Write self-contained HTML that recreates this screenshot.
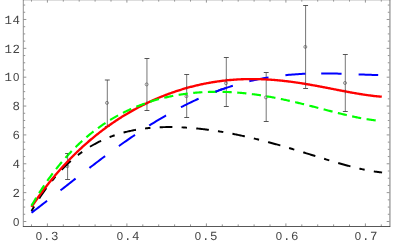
<!DOCTYPE html>
<html><head><meta charset="utf-8"><title>plot</title>
<style>
html,body{margin:0;padding:0;background:#fff;}
body{width:393px;height:243px;position:relative;overflow:hidden;font-family:"Liberation Mono",monospace;font-size:12.4px;letter-spacing:0.46px;color:#444;text-rendering:geometricPrecision;}
.yl,.xl{will-change:transform;}
.z{display:inline-block;width:7.44px;line-height:10px;text-align:center;font-family:"Liberation Sans",sans-serif;font-size:11.4px;letter-spacing:0;margin-right:0.46px;}
.yl{position:absolute;left:0;width:20.4px;text-align:right;line-height:16px;height:16px;}
.xl{position:absolute;top:228.6px;width:40px;text-align:center;line-height:16px;height:16px;}
</style></head><body>
<svg width="393" height="243" viewBox="0 0 393 243" style="position:absolute;left:0;top:0">
<g stroke="#3a3a3a" fill="none">
<path d="M23.3 -0.3 V226.5" stroke-width="0.9" stroke="#858585"/>
<path d="M389.95 -0.3 V226.5" stroke-width="1.0" stroke="#787878"/>
<path d="M22.90 226.5 H390.30" stroke-width="0.85"/>
<path d="M22.90 -0.3 H390.30" stroke-width="0.85"/>
<path stroke-width="0.55" d="M31.50 226.0 v-1.60 M31.50 0.20 v1.40 M47.40 226.0 v-2.60 M47.40 0.20 v2.40 M63.30 226.0 v-1.60 M63.30 0.20 v1.40 M79.20 226.0 v-1.60 M79.20 0.20 v1.40 M95.10 226.0 v-1.60 M95.10 0.20 v1.40 M111.00 226.0 v-1.60 M111.00 0.20 v1.40 M126.90 226.0 v-2.60 M126.90 0.20 v2.40 M142.80 226.0 v-1.60 M142.80 0.20 v1.40 M158.70 226.0 v-1.60 M158.70 0.20 v1.40 M174.60 226.0 v-1.60 M174.60 0.20 v1.40 M190.50 226.0 v-1.60 M190.50 0.20 v1.40 M206.40 226.0 v-2.60 M206.40 0.20 v2.40 M222.30 226.0 v-1.60 M222.30 0.20 v1.40 M238.20 226.0 v-1.60 M238.20 0.20 v1.40 M254.10 226.0 v-1.60 M254.10 0.20 v1.40 M270.00 226.0 v-1.60 M270.00 0.20 v1.40 M285.90 226.0 v-2.60 M285.90 0.20 v2.40 M301.80 226.0 v-1.60 M301.80 0.20 v1.40 M317.70 226.0 v-1.60 M317.70 0.20 v1.40 M333.60 226.0 v-1.60 M333.60 0.20 v1.40 M349.50 226.0 v-1.60 M349.50 0.20 v1.40 M365.40 226.0 v-2.60 M365.40 0.20 v2.40 M381.30 226.0 v-1.60 M381.30 0.20 v1.40 M23.70 221.50 h2.60 M389.30 221.50 h-2.60 M23.70 214.28 h1.50 M389.30 214.28 h-1.50 M23.70 207.07 h1.50 M389.30 207.07 h-1.50 M23.70 199.85 h1.50 M389.30 199.85 h-1.50 M23.70 192.64 h2.60 M389.30 192.64 h-2.60 M23.70 185.43 h1.50 M389.30 185.43 h-1.50 M23.70 178.21 h1.50 M389.30 178.21 h-1.50 M23.70 171.00 h1.50 M389.30 171.00 h-1.50 M23.70 163.78 h2.60 M389.30 163.78 h-2.60 M23.70 156.56 h1.50 M389.30 156.56 h-1.50 M23.70 149.35 h1.50 M389.30 149.35 h-1.50 M23.70 142.13 h1.50 M389.30 142.13 h-1.50 M23.70 134.92 h2.60 M389.30 134.92 h-2.60 M23.70 127.70 h1.50 M389.30 127.70 h-1.50 M23.70 120.49 h1.50 M389.30 120.49 h-1.50 M23.70 113.28 h1.50 M389.30 113.28 h-1.50 M23.70 106.06 h2.60 M389.30 106.06 h-2.60 M23.70 98.84 h1.50 M389.30 98.84 h-1.50 M23.70 91.63 h1.50 M389.30 91.63 h-1.50 M23.70 84.41 h1.50 M389.30 84.41 h-1.50 M23.70 77.20 h2.60 M389.30 77.20 h-2.60 M23.70 69.99 h1.50 M389.30 69.99 h-1.50 M23.70 62.77 h1.50 M389.30 62.77 h-1.50 M23.70 55.56 h1.50 M389.30 55.56 h-1.50 M23.70 48.34 h2.60 M389.30 48.34 h-2.60 M23.70 41.12 h1.50 M389.30 41.12 h-1.50 M23.70 33.91 h1.50 M389.30 33.91 h-1.50 M23.70 26.69 h1.50 M389.30 26.69 h-1.50 M23.70 19.48 h2.60 M389.30 19.48 h-2.60 M23.70 12.27 h1.50 M389.30 12.27 h-1.50 M23.70 5.05 h1.50 M389.30 5.05 h-1.50"/>
</g>
<g fill="none">
<path stroke="#484848" stroke-width="0.75" d="M67.60 153.50 V179.50"/>
<path stroke="#444" stroke-width="0.9" d="M65.15 153.50 h4.9 M65.15 179.50 h4.9"/>
<circle cx="67.30" cy="166.23" r="1.5" fill="none" stroke="#555" stroke-width="0.65"/>
<path stroke="#484848" stroke-width="0.75" d="M107.30 80.00 V126.50"/>
<path stroke="#444" stroke-width="0.9" d="M104.85 80.00 h4.9 M104.85 126.50 h4.9"/>
<circle cx="107.00" cy="102.89" r="1.5" fill="none" stroke="#555" stroke-width="0.65"/>
<path stroke="#484848" stroke-width="0.75" d="M146.95 58.50 V110.50"/>
<path stroke="#444" stroke-width="0.9" d="M144.50 58.50 h4.9 M144.50 110.50 h4.9"/>
<circle cx="146.65" cy="84.41" r="1.5" fill="none" stroke="#555" stroke-width="0.65"/>
<path stroke="#484848" stroke-width="0.75" d="M186.70 74.50 V117.50"/>
<path stroke="#444" stroke-width="0.9" d="M184.25 74.50 h4.9 M184.25 117.50 h4.9"/>
<circle cx="186.40" cy="96.25" r="1.5" fill="none" stroke="#555" stroke-width="0.65"/>
<path stroke="#484848" stroke-width="0.75" d="M226.30 57.50 V106.50"/>
<path stroke="#444" stroke-width="0.9" d="M223.85 57.50 h4.9 M223.85 106.50 h4.9"/>
<circle cx="226.00" cy="83.26" r="1.5" fill="none" stroke="#555" stroke-width="0.65"/>
<path stroke="#484848" stroke-width="0.75" d="M266.20 72.50 V121.50"/>
<path stroke="#444" stroke-width="0.9" d="M263.75 72.50 h4.9 M263.75 121.50 h4.9"/>
<circle cx="265.90" cy="97.40" r="1.5" fill="none" stroke="#555" stroke-width="0.65"/>
<path stroke="#484848" stroke-width="0.75" d="M305.60 5.50 V88.50"/>
<path stroke="#444" stroke-width="0.9" d="M303.15 5.50 h4.9 M303.15 88.50 h4.9"/>
<circle cx="305.30" cy="46.90" r="1.5" fill="none" stroke="#555" stroke-width="0.65"/>
<path stroke="#484848" stroke-width="0.75" d="M345.30 54.50 V111.50"/>
<path stroke="#444" stroke-width="0.9" d="M342.85 54.50 h4.9 M342.85 111.50 h4.9"/>
<circle cx="345.00" cy="82.97" r="1.5" fill="none" stroke="#555" stroke-width="0.65"/>
</g>
<path d="M31.50 211.04 L32.38 209.53 L33.26 208.03 L34.14 206.56 L35.01 205.11 L35.89 203.69 L36.77 202.28 L37.65 200.89 L38.53 199.52 L39.41 198.16 L40.29 196.83 L41.17 195.52 L42.04 194.23 L42.92 192.95 L43.80 191.69 L44.68 190.45 L45.56 189.23 L46.44 188.03 L47.32 186.84 L48.20 185.67 L49.07 184.52 L49.95 183.38 L50.83 182.27 L51.71 181.16 L52.59 180.08 L53.47 179.01 L54.35 177.96 L55.22 176.92 L56.10 175.90 L56.98 174.89 L57.86 173.90 L58.74 172.93 L59.62 171.97 L60.50 171.02 L61.38 170.09 L62.25 169.17 L63.13 168.27 L64.01 167.38 L64.89 166.51 L65.77 165.65 L66.65 164.80 L67.53 163.96 L68.41 163.14 L69.28 162.34 L70.16 161.54 L71.04 160.76 L71.92 159.99 L72.80 159.24 L73.68 158.49 L74.56 157.76 L75.43 157.04 L76.31 156.34 L77.19 155.64 L78.07 154.96 L78.95 154.29 L79.83 153.63 L80.71 152.98 L81.59 152.34 L82.46 151.71 L83.34 151.09 L84.22 150.49 L85.10 149.89 L85.98 149.31 L86.86 148.74 L87.74 148.17 L88.62 147.62 L89.49 147.08 L90.37 146.54 L91.25 146.02 L92.13 145.50 L93.01 145.00 L93.89 144.50 L94.77 144.02 L95.64 143.54 L96.52 143.07 L97.40 142.61 L98.28 142.16 L99.16 141.72 L100.04 141.29 L100.92 140.87 L101.80 140.45 L102.67 140.04 L103.55 139.64 L104.43 139.25 L105.31 138.87 L106.19 138.49 L107.07 138.13 L107.95 137.77 L108.83 137.41 L109.70 137.07 L110.58 136.73 L111.46 136.40 L112.34 136.08 L113.22 135.76 L114.10 135.46 L114.98 135.15 L115.85 134.86 L116.73 134.57 L117.61 134.29 L118.49 134.02 L119.37 133.75 L120.25 133.49 L121.13 133.23 L122.01 132.98 L122.88 132.74 L123.76 132.50 L124.64 132.27 L125.52 132.05 L126.40 131.83 L127.28 131.62 L128.16 131.41 L129.04 131.21 L129.91 131.02 L130.79 130.83 L131.67 130.64 L132.55 130.46 L133.43 130.29 L134.31 130.12 L135.19 129.96 L136.06 129.80 L136.94 129.65 L137.82 129.50 L138.70 129.35 L139.58 129.22 L140.46 129.08 L141.34 128.95 L142.22 128.83 L143.09 128.71 L143.97 128.60 L144.85 128.49 L145.73 128.38 L146.61 128.28 L147.49 128.18 L148.37 128.09 L149.25 128.00 L150.12 127.92 L151.00 127.84 L151.88 127.77 L152.76 127.69 L153.64 127.63 L154.52 127.56 L155.40 127.51 L156.27 127.45 L157.15 127.40 L158.03 127.35 L158.91 127.31 L159.79 127.27 L160.67 127.23 L161.55 127.20 L162.43 127.17 L163.30 127.14 L164.18 127.12 L165.06 127.10 L165.94 127.08 L166.82 127.07 L167.70 127.06 L168.58 127.06 L169.46 127.06 L170.33 127.06 L171.21 127.06 L172.09 127.07 L172.97 127.08 L173.85 127.10 L174.73 127.11 L175.61 127.13 L176.48 127.16 L177.36 127.18 L178.24 127.21 L179.12 127.24 L180.00 127.28 L180.88 127.31 L181.76 127.36 L182.64 127.40 L183.51 127.45 L184.39 127.49 L185.27 127.55 L186.15 127.60 L187.03 127.66 L187.91 127.72 L188.79 127.78 L189.67 127.84 L190.54 127.91 L191.42 127.98 L192.30 128.06 L193.18 128.13 L194.06 128.21 L194.94 128.29 L195.82 128.37 L196.69 128.46 L197.57 128.54 L198.45 128.63 L199.33 128.73 L200.21 128.82 L201.09 128.92 L201.97 129.02 L202.85 129.12 L203.72 129.22 L204.60 129.33 L205.48 129.44 L206.36 129.55 L207.24 129.66 L208.12 129.78 L209.00 129.89 L209.88 130.01 L210.75 130.13 L211.63 130.26 L212.51 130.38 L213.39 130.51 L214.27 130.64 L215.15 130.77 L216.03 130.91 L216.91 131.04 L217.78 131.18 L218.66 131.32 L219.54 131.47 L220.42 131.61 L221.30 131.76 L222.18 131.90 L223.06 132.05 L223.93 132.21 L224.81 132.36 L225.69 132.52 L226.57 132.67 L227.45 132.83 L228.33 133.00 L229.21 133.16 L230.09 133.32 L230.96 133.49 L231.84 133.66 L232.72 133.83 L233.60 134.00 L234.48 134.18 L235.36 134.36 L236.24 134.53 L237.12 134.71 L237.99 134.89 L238.87 135.08 L239.75 135.26 L240.63 135.45 L241.51 135.64 L242.39 135.83 L243.27 136.02 L244.14 136.21 L245.02 136.41 L245.90 136.61 L246.78 136.80 L247.66 137.00 L248.54 137.21 L249.42 137.41 L250.30 137.61 L251.17 137.82 L252.05 138.03 L252.93 138.24 L253.81 138.45 L254.69 138.66 L255.57 138.88 L256.45 139.09 L257.33 139.31 L258.20 139.53 L259.08 139.75 L259.96 139.97 L260.84 140.19 L261.72 140.42 L262.60 140.64 L263.48 140.87 L264.35 141.10 L265.23 141.33 L266.11 141.56 L266.99 141.79 L267.87 142.03 L268.75 142.26 L269.63 142.50 L270.51 142.74 L271.38 142.97 L272.26 143.21 L273.14 143.46 L274.02 143.70 L274.90 143.94 L275.78 144.19 L276.66 144.43 L277.54 144.68 L278.41 144.93 L279.29 145.18 L280.17 145.43 L281.05 145.68 L281.93 145.93 L282.81 146.19 L283.69 146.44 L284.56 146.70 L285.44 146.96 L286.32 147.21 L287.20 147.47 L288.08 147.73 L288.96 147.99 L289.84 148.25 L290.72 148.52 L291.59 148.78 L292.47 149.04 L293.35 149.31 L294.23 149.57 L295.11 149.84 L295.99 150.10 L296.87 150.37 L297.75 150.64 L298.62 150.91 L299.50 151.17 L300.38 151.44 L301.26 151.71 L302.14 151.98 L303.02 152.25 L303.90 152.52 L304.77 152.80 L305.65 153.07 L306.53 153.34 L307.41 153.61 L308.29 153.88 L309.17 154.16 L310.05 154.43 L310.93 154.70 L311.80 154.98 L312.68 155.25 L313.56 155.52 L314.44 155.79 L315.32 156.07 L316.20 156.34 L317.08 156.61 L317.96 156.89 L318.83 157.16 L319.71 157.43 L320.59 157.70 L321.47 157.97 L322.35 158.24 L323.23 158.52 L324.11 158.79 L324.98 159.05 L325.86 159.32 L326.74 159.59 L327.62 159.86 L328.50 160.13 L329.38 160.39 L330.26 160.66 L331.14 160.92 L332.01 161.19 L332.89 161.45 L333.77 161.71 L334.65 161.97 L335.53 162.23 L336.41 162.49 L337.29 162.74 L338.17 163.00 L339.04 163.25 L339.92 163.50 L340.80 163.75 L341.68 164.00 L342.56 164.25 L343.44 164.50 L344.32 164.74 L345.19 164.98 L346.07 165.22 L346.95 165.46 L347.83 165.70 L348.71 165.93 L349.59 166.16 L350.47 166.39 L351.35 166.62 L352.22 166.85 L353.10 167.07 L353.98 167.29 L354.86 167.51 L355.74 167.72 L356.62 167.93 L357.50 168.14 L358.38 168.35 L359.25 168.55 L360.13 168.75 L361.01 168.95 L361.89 169.14 L362.77 169.33 L363.65 169.52 L364.53 169.70 L365.40 169.88 L366.28 170.06 L367.16 170.23 L368.04 170.40 L368.92 170.56 L369.80 170.72 L370.68 170.88 L371.56 171.03 L372.43 171.18 L373.31 171.32 L374.19 171.46 L375.07 171.59 L375.95 171.72 L376.83 171.84 L377.71 171.96 L378.59 172.08 L379.46 172.18 L380.34 172.29 L381.22 172.39 L382.10 172.48" fill="none" stroke="#000000" stroke-width="1.95" stroke-dasharray="12.7 9.2 5.4 9.3" stroke-dashoffset="22.0"/>
<path d="M31.50 212.73 L31.59 212.67 L33.34 211.34 L35.09 210.01 L36.84 208.68 L38.59 207.34 L40.34 206.00 L42.09 204.66 L43.84 203.31 L45.60 201.96 L47.06 200.82 M60.52 190.36 L60.57 190.32 L62.32 188.96 L64.07 187.59 L65.82 186.23 L67.57 184.86 L69.32 183.50 L71.07 182.13 L72.82 180.77 L74.57 179.41 L75.60 178.61 M89.47 167.91 L89.54 167.85 L91.29 166.51 L93.05 165.18 L94.80 163.85 L96.55 162.52 L98.30 161.20 L100.05 159.88 L101.80 158.57 L103.55 157.26 L105.11 156.10 M118.88 146.06 L118.96 146.01 L120.71 144.76 L122.46 143.52 L124.21 142.29 L125.96 141.06 L127.71 139.84 L129.46 138.63 L131.22 137.43 L132.97 136.24 L134.72 135.05 L134.98 134.88 M149.24 125.56 L149.25 125.55 L151.00 124.45 L152.75 123.36 L154.50 122.28 L156.25 121.21 L158.01 120.15 L159.76 119.10 L161.51 118.06 L163.26 117.03 L165.01 116.02 L166.02 115.43 M180.97 107.25 L181.03 107.22 L182.78 106.32 L184.53 105.43 L186.28 104.55 L188.03 103.68 L189.78 102.83 L191.54 101.99 L193.29 101.16 L195.04 100.34 L196.79 99.53 L198.54 98.74 L198.61 98.71 M215.40 91.75 L215.44 91.74 L217.19 91.08 L218.94 90.43 L220.69 89.80 L222.44 89.18 L224.19 88.57 L225.94 87.98 L227.69 87.40 L229.44 86.83 L231.19 86.27 L232.86 85.76 M249.29 81.28 L249.32 81.27 L251.07 80.86 L252.82 80.46 L254.57 80.07 L256.32 79.70 L258.07 79.33 L259.82 78.98 L261.57 78.64 L263.32 78.32 L265.08 78.00 L266.83 77.70 L268.51 77.42 M285.40 75.18 L285.47 75.17 L287.22 75.00 L288.98 74.83 L290.73 74.68 L292.48 74.53 L294.23 74.40 L295.98 74.28 L297.73 74.16 L299.48 74.05 L301.23 73.96 L302.98 73.87 L304.73 73.79 L305.50 73.76 M321.20 73.43 L321.28 73.43 L323.03 73.43 L324.78 73.43 L326.53 73.45 L328.28 73.46 L330.03 73.48 L331.79 73.51 L333.54 73.55 L335.29 73.58 L337.04 73.62 L338.79 73.67 L340.54 73.72 L341.57 73.75 M358.60 74.38 L358.66 74.38 L360.41 74.45 L362.16 74.52 L363.92 74.59 L365.67 74.66 L367.42 74.73 L369.17 74.80 L370.92 74.86 L372.67 74.93 L374.42 74.98 L376.17 75.04 L377.92 75.09 L378.19 75.10" fill="none" stroke="#0000ff" stroke-width="2.0"/>
<path d="M31.50 206.89 L32.38 205.59 L33.26 204.29 L34.13 203.02 L35.01 201.75 L35.89 200.49 L36.77 199.24 L37.65 198.01 L38.52 196.78 L39.40 195.56 L40.28 194.36 L41.16 193.16 L42.04 191.98 L42.91 190.80 L43.79 189.64 L44.67 188.48 L45.55 187.34 L46.43 186.20 L47.30 185.08 L48.18 183.96 L49.06 182.85 L49.94 181.75 L50.81 180.66 L51.69 179.59 L52.57 178.51 L53.45 177.45 L54.33 176.40 L55.20 175.36 L56.08 174.32 L56.96 173.29 L57.84 172.28 L58.72 171.27 L59.59 170.27 L60.47 169.27 L61.35 168.29 L62.23 167.31 L63.11 166.34 L63.98 165.38 L64.86 164.43 L65.74 163.49 L66.62 162.55 L67.50 161.62 L68.37 160.70 L69.25 159.79 L70.13 158.88 L71.01 157.99 L71.89 157.10 L72.76 156.21 L73.64 155.34 L74.52 154.47 L75.40 153.61 L76.28 152.75 L77.15 151.90 L78.03 151.06 L78.91 150.23 L79.79 149.40 L80.66 148.59 L81.54 147.77 L82.42 146.97 L83.30 146.17 L84.18 145.37 L85.05 144.59 L85.93 143.81 L86.81 143.04 L87.69 142.27 L88.57 141.51 L89.44 140.75 L90.32 140.01 L91.20 139.26 L92.08 138.53 L92.96 137.80 L93.83 137.08 L94.71 136.36 L95.59 135.65 L96.47 134.94 L97.35 134.24 L98.22 133.55 L99.10 132.86 L99.98 132.18 L100.86 131.50 L101.74 130.83 L102.61 130.16 L103.49 129.51 L104.37 128.85 L105.25 128.20 L106.13 127.56 L107.00 126.92 L107.88 126.29 L108.76 125.66 L109.64 125.04 L110.52 124.42 L111.39 123.81 L112.27 123.21 L113.15 122.60 L114.03 122.01 L114.90 121.42 L115.78 120.83 L116.66 120.25 L117.54 119.68 L118.42 119.10 L119.29 118.54 L120.17 117.98 L121.05 117.42 L121.93 116.87 L122.81 116.32 L123.68 115.78 L124.56 115.25 L125.44 114.71 L126.32 114.19 L127.20 113.66 L128.07 113.15 L128.95 112.63 L129.83 112.12 L130.71 111.62 L131.59 111.12 L132.46 110.62 L133.34 110.13 L134.22 109.65 L135.10 109.16 L135.98 108.69 L136.85 108.21 L137.73 107.74 L138.61 107.28 L139.49 106.82 L140.37 106.36 L141.24 105.91 L142.12 105.47 L143.00 105.02 L143.88 104.58 L144.75 104.15 L145.63 103.72 L146.51 103.29 L147.39 102.87 L148.27 102.45 L149.14 102.04 L150.02 101.63 L150.90 101.23 L151.78 100.82 L152.66 100.43 L153.53 100.03 L154.41 99.64 L155.29 99.26 L156.17 98.88 L157.05 98.50 L157.92 98.13 L158.80 97.76 L159.68 97.39 L160.56 97.03 L161.44 96.67 L162.31 96.32 L163.19 95.97 L164.07 95.62 L164.95 95.28 L165.83 94.94 L166.70 94.61 L167.58 94.28 L168.46 93.95 L169.34 93.63 L170.22 93.31 L171.09 92.99 L171.97 92.68 L172.85 92.37 L173.73 92.07 L174.61 91.77 L175.48 91.47 L176.36 91.18 L177.24 90.89 L178.12 90.61 L178.99 90.32 L179.87 90.05 L180.75 89.77 L181.63 89.50 L182.51 89.23 L183.38 88.97 L184.26 88.71 L185.14 88.45 L186.02 88.20 L186.90 87.95 L187.77 87.71 L188.65 87.47 L189.53 87.23 L190.41 86.99 L191.29 86.76 L192.16 86.53 L193.04 86.31 L193.92 86.09 L194.80 85.87 L195.68 85.66 L196.55 85.45 L197.43 85.24 L198.31 85.04 L199.19 84.84 L200.07 84.65 L200.94 84.45 L201.82 84.27 L202.70 84.08 L203.58 83.90 L204.46 83.72 L205.33 83.55 L206.21 83.37 L207.09 83.21 L207.97 83.04 L208.84 82.88 L209.72 82.72 L210.60 82.57 L211.48 82.42 L212.36 82.27 L213.23 82.13 L214.11 81.99 L214.99 81.85 L215.87 81.72 L216.75 81.59 L217.62 81.46 L218.50 81.34 L219.38 81.22 L220.26 81.10 L221.14 80.99 L222.01 80.88 L222.89 80.77 L223.77 80.66 L224.65 80.56 L225.53 80.47 L226.40 80.37 L227.28 80.28 L228.16 80.20 L229.04 80.11 L229.92 80.03 L230.79 79.96 L231.67 79.88 L232.55 79.81 L233.43 79.74 L234.31 79.68 L235.18 79.62 L236.06 79.56 L236.94 79.51 L237.82 79.45 L238.69 79.41 L239.57 79.36 L240.45 79.32 L241.33 79.28 L242.21 79.24 L243.08 79.21 L243.96 79.18 L244.84 79.16 L245.72 79.13 L246.60 79.11 L247.47 79.10 L248.35 79.08 L249.23 79.07 L250.11 79.06 L250.99 79.06 L251.86 79.06 L252.74 79.06 L253.62 79.06 L254.50 79.07 L255.38 79.08 L256.25 79.09 L257.13 79.11 L258.01 79.12 L258.89 79.15 L259.77 79.17 L260.64 79.20 L261.52 79.23 L262.40 79.26 L263.28 79.30 L264.16 79.34 L265.03 79.38 L265.91 79.42 L266.79 79.47 L267.67 79.52 L268.55 79.57 L269.42 79.63 L270.30 79.68 L271.18 79.74 L272.06 79.81 L272.93 79.87 L273.81 79.94 L274.69 80.01 L275.57 80.09 L276.45 80.16 L277.32 80.24 L278.20 80.32 L279.08 80.40 L279.96 80.49 L280.84 80.58 L281.71 80.67 L282.59 80.76 L283.47 80.86 L284.35 80.96 L285.23 81.06 L286.10 81.16 L286.98 81.26 L287.86 81.37 L288.74 81.48 L289.62 81.59 L290.49 81.70 L291.37 81.82 L292.25 81.93 L293.13 82.05 L294.01 82.18 L294.88 82.30 L295.76 82.42 L296.64 82.55 L297.52 82.68 L298.40 82.81 L299.27 82.94 L300.15 83.08 L301.03 83.21 L301.91 83.35 L302.78 83.49 L303.66 83.63 L304.54 83.78 L305.42 83.92 L306.30 84.07 L307.17 84.22 L308.05 84.36 L308.93 84.51 L309.81 84.67 L310.69 84.82 L311.56 84.97 L312.44 85.13 L313.32 85.29 L314.20 85.44 L315.08 85.60 L315.95 85.76 L316.83 85.93 L317.71 86.09 L318.59 86.25 L319.47 86.42 L320.34 86.58 L321.22 86.75 L322.10 86.91 L322.98 87.08 L323.86 87.25 L324.73 87.42 L325.61 87.59 L326.49 87.76 L327.37 87.93 L328.25 88.10 L329.12 88.27 L330.00 88.44 L330.88 88.61 L331.76 88.78 L332.64 88.95 L333.51 89.12 L334.39 89.30 L335.27 89.47 L336.15 89.64 L337.02 89.81 L337.90 89.98 L338.78 90.15 L339.66 90.32 L340.54 90.49 L341.41 90.66 L342.29 90.83 L343.17 91.00 L344.05 91.17 L344.93 91.34 L345.80 91.50 L346.68 91.67 L347.56 91.83 L348.44 92.00 L349.32 92.16 L350.19 92.32 L351.07 92.48 L351.95 92.64 L352.83 92.80 L353.71 92.95 L354.58 93.11 L355.46 93.26 L356.34 93.41 L357.22 93.56 L358.10 93.71 L358.97 93.86 L359.85 94.00 L360.73 94.14 L361.61 94.28 L362.49 94.42 L363.36 94.55 L364.24 94.69 L365.12 94.82 L366.00 94.94 L366.87 95.07 L367.75 95.19 L368.63 95.31 L369.51 95.43 L370.39 95.54 L371.26 95.65 L372.14 95.76 L373.02 95.86 L373.90 95.96 L374.78 96.06 L375.65 96.15 L376.53 96.24 L377.41 96.33 L378.29 96.41 L379.17 96.49 L380.04 96.56 L380.92 96.63 L381.80 96.70" fill="none" stroke="#ff0000" stroke-width="2.35"/>
<path d="M31.50 205.67 L32.37 204.16 L33.25 202.68 L34.12 201.20 L35.00 199.75 L35.87 198.30 L36.75 196.88 L37.62 195.47 L38.50 194.07 L39.37 192.69 L40.24 191.33 L41.12 189.98 L41.99 188.64 L42.87 187.32 L43.74 186.02 L44.62 184.73 L45.49 183.45 L46.37 182.19 L47.24 180.94 L48.11 179.70 L48.99 178.48 L49.86 177.27 L50.74 176.07 L51.61 174.89 L52.49 173.72 L53.36 172.57 L54.24 171.42 L55.11 170.29 L55.98 169.18 L56.86 168.07 L57.73 166.98 L58.61 165.90 L59.48 164.83 L60.36 163.77 L61.23 162.73 L62.11 161.69 L62.98 160.67 L63.85 159.66 L64.73 158.66 L65.60 157.68 L66.48 156.70 L67.35 155.73 L68.23 154.78 L69.10 153.84 L69.98 152.90 L70.85 151.98 L71.72 151.07 L72.60 150.17 L73.47 149.28 L74.35 148.40 L75.22 147.53 L76.10 146.67 L76.97 145.82 L77.85 144.98 L78.72 144.15 L79.59 143.32 L80.47 142.51 L81.34 141.71 L82.22 140.92 L83.09 140.13 L83.97 139.36 L84.84 138.59 L85.72 137.84 L86.59 137.09 L87.46 136.35 L88.34 135.62 L89.21 134.90 L90.09 134.18 L90.96 133.48 L91.84 132.78 L92.71 132.10 L93.58 131.42 L94.46 130.74 L95.33 130.08 L96.21 129.43 L97.08 128.78 L97.96 128.14 L98.83 127.51 L99.71 126.88 L100.58 126.26 L101.45 125.66 L102.33 125.05 L103.20 124.46 L104.08 123.87 L104.95 123.29 L105.83 122.72 L106.70 122.15 L107.58 121.59 L108.45 121.04 L109.32 120.50 L110.20 119.96 L111.07 119.43 L111.95 118.90 L112.82 118.39 L113.70 117.88 L114.57 117.37 L115.45 116.87 L116.32 116.38 L117.19 115.89 L118.07 115.42 L118.94 114.94 L119.82 114.48 L120.69 114.02 L121.57 113.56 L122.44 113.11 L123.32 112.67 L124.19 112.23 L125.06 111.80 L125.94 111.38 L126.81 110.96 L127.69 110.54 L128.56 110.14 L129.44 109.73 L130.31 109.34 L131.19 108.95 L132.06 108.56 L132.93 108.18 L133.81 107.80 L134.68 107.43 L135.56 107.07 L136.43 106.71 L137.31 106.36 L138.18 106.01 L139.06 105.66 L139.93 105.33 L140.80 104.99 L141.68 104.66 L142.55 104.34 L143.43 104.02 L144.30 103.71 L145.18 103.40 L146.05 103.09 L146.93 102.79 L147.80 102.50 L148.67 102.21 L149.55 101.92 L150.42 101.64 L151.30 101.37 L152.17 101.09 L153.05 100.83 L153.92 100.56 L154.80 100.31 L155.67 100.05 L156.54 99.80 L157.42 99.56 L158.29 99.32 L159.17 99.08 L160.04 98.85 L160.92 98.62 L161.79 98.40 L162.67 98.18 L163.54 97.96 L164.41 97.75 L165.29 97.54 L166.16 97.34 L167.04 97.14 L167.91 96.95 L168.79 96.75 L169.66 96.57 L170.54 96.38 L171.41 96.20 L172.28 96.03 L173.16 95.86 L174.03 95.69 L174.91 95.53 L175.78 95.37 L176.66 95.21 L177.53 95.06 L178.41 94.91 L179.28 94.76 L180.15 94.62 L181.03 94.49 L181.90 94.35 L182.78 94.22 L183.65 94.09 L184.53 93.97 L185.40 93.85 L186.28 93.74 L187.15 93.62 L188.02 93.51 L188.90 93.41 L189.77 93.31 L190.65 93.21 L191.52 93.11 L192.40 93.02 L193.27 92.93 L194.15 92.85 L195.02 92.77 L195.89 92.69 L196.77 92.62 L197.64 92.55 L198.52 92.48 L199.39 92.41 L200.27 92.35 L201.14 92.29 L202.02 92.24 L202.89 92.19 L203.76 92.14 L204.64 92.09 L205.51 92.05 L206.39 92.01 L207.26 91.98 L208.14 91.95 L209.01 91.92 L209.88 91.89 L210.76 91.87 L211.63 91.85 L212.51 91.83 L213.38 91.82 L214.26 91.81 L215.13 91.80 L216.01 91.80 L216.88 91.79 L217.75 91.80 L218.63 91.80 L219.50 91.81 L220.38 91.82 L221.25 91.83 L222.13 91.85 L223.00 91.87 L223.88 91.89 L224.75 91.92 L225.62 91.95 L226.50 91.98 L227.37 92.01 L228.25 92.05 L229.12 92.09 L230.00 92.13 L230.87 92.17 L231.75 92.22 L232.62 92.27 L233.49 92.33 L234.37 92.38 L235.24 92.44 L236.12 92.51 L236.99 92.57 L237.87 92.64 L238.74 92.71 L239.62 92.78 L240.49 92.86 L241.36 92.93 L242.24 93.02 L243.11 93.10 L243.99 93.18 L244.86 93.27 L245.74 93.36 L246.61 93.46 L247.49 93.55 L248.36 93.65 L249.23 93.76 L250.11 93.86 L250.98 93.97 L251.86 94.07 L252.73 94.19 L253.61 94.30 L254.48 94.42 L255.36 94.53 L256.23 94.66 L257.10 94.78 L257.98 94.90 L258.85 95.03 L259.73 95.16 L260.60 95.30 L261.48 95.43 L262.35 95.57 L263.23 95.71 L264.10 95.85 L264.97 95.99 L265.85 96.14 L266.72 96.29 L267.60 96.44 L268.47 96.59 L269.35 96.75 L270.22 96.90 L271.10 97.06 L271.97 97.22 L272.84 97.39 L273.72 97.55 L274.59 97.72 L275.47 97.89 L276.34 98.06 L277.22 98.23 L278.09 98.41 L278.97 98.58 L279.84 98.76 L280.71 98.94 L281.59 99.12 L282.46 99.31 L283.34 99.49 L284.21 99.68 L285.09 99.87 L285.96 100.06 L286.84 100.25 L287.71 100.44 L288.58 100.64 L289.46 100.84 L290.33 101.03 L291.21 101.23 L292.08 101.43 L292.96 101.64 L293.83 101.84 L294.71 102.05 L295.58 102.25 L296.45 102.46 L297.33 102.67 L298.20 102.88 L299.08 103.09 L299.95 103.30 L300.83 103.52 L301.70 103.73 L302.58 103.95 L303.45 104.16 L304.32 104.38 L305.20 104.60 L306.07 104.82 L306.95 105.04 L307.82 105.26 L308.70 105.48 L309.57 105.70 L310.45 105.93 L311.32 106.15 L312.19 106.38 L313.07 106.60 L313.94 106.83 L314.82 107.05 L315.69 107.28 L316.57 107.50 L317.44 107.73 L318.32 107.96 L319.19 108.18 L320.06 108.41 L320.94 108.64 L321.81 108.87 L322.69 109.09 L323.56 109.32 L324.44 109.55 L325.31 109.78 L326.18 110.00 L327.06 110.23 L327.93 110.46 L328.81 110.68 L329.68 110.91 L330.56 111.13 L331.43 111.36 L332.31 111.58 L333.18 111.81 L334.05 112.03 L334.93 112.25 L335.80 112.47 L336.68 112.69 L337.55 112.91 L338.43 113.13 L339.30 113.34 L340.18 113.56 L341.05 113.77 L341.92 113.99 L342.80 114.20 L343.67 114.41 L344.55 114.62 L345.42 114.82 L346.30 115.03 L347.17 115.23 L348.05 115.44 L348.92 115.64 L349.79 115.83 L350.67 116.03 L351.54 116.22 L352.42 116.42 L353.29 116.61 L354.17 116.79 L355.04 116.98 L355.92 117.16 L356.79 117.34 L357.66 117.52 L358.54 117.69 L359.41 117.86 L360.29 118.03 L361.16 118.19 L362.04 118.36 L362.91 118.51 L363.79 118.67 L364.66 118.82 L365.53 118.97 L366.41 119.12 L367.28 119.26 L368.16 119.40 L369.03 119.53 L369.91 119.66 L370.78 119.79 L371.66 119.91 L372.53 120.02 L373.40 120.14 L374.28 120.25 L375.15 120.35 L376.03 120.45 L376.90 120.54 L377.78 120.63 L378.65 120.72 L379.53 120.80 L380.40 120.87" fill="none" stroke="#00ff00" stroke-width="2.15" stroke-dasharray="9.2 5.49" stroke-dashoffset="0"/>
<clipPath id="cb"><rect x="212" y="85" width="13" height="12"/></clipPath>
<path clip-path="url(#cb)" d="M31.50 212.73 L31.59 212.67 L33.34 211.34 L35.09 210.01 L36.84 208.68 L38.59 207.34 L40.34 206.00 L42.09 204.66 L43.84 203.31 L45.60 201.96 L47.06 200.82 M60.52 190.36 L60.57 190.32 L62.32 188.96 L64.07 187.59 L65.82 186.23 L67.57 184.86 L69.32 183.50 L71.07 182.13 L72.82 180.77 L74.57 179.41 L75.60 178.61 M89.47 167.91 L89.54 167.85 L91.29 166.51 L93.05 165.18 L94.80 163.85 L96.55 162.52 L98.30 161.20 L100.05 159.88 L101.80 158.57 L103.55 157.26 L105.11 156.10 M118.88 146.06 L118.96 146.01 L120.71 144.76 L122.46 143.52 L124.21 142.29 L125.96 141.06 L127.71 139.84 L129.46 138.63 L131.22 137.43 L132.97 136.24 L134.72 135.05 L134.98 134.88 M149.24 125.56 L149.25 125.55 L151.00 124.45 L152.75 123.36 L154.50 122.28 L156.25 121.21 L158.01 120.15 L159.76 119.10 L161.51 118.06 L163.26 117.03 L165.01 116.02 L166.02 115.43 M180.97 107.25 L181.03 107.22 L182.78 106.32 L184.53 105.43 L186.28 104.55 L188.03 103.68 L189.78 102.83 L191.54 101.99 L193.29 101.16 L195.04 100.34 L196.79 99.53 L198.54 98.74 L198.61 98.71 M215.40 91.75 L215.44 91.74 L217.19 91.08 L218.94 90.43 L220.69 89.80 L222.44 89.18 L224.19 88.57 L225.94 87.98 L227.69 87.40 L229.44 86.83 L231.19 86.27 L232.86 85.76 M249.29 81.28 L249.32 81.27 L251.07 80.86 L252.82 80.46 L254.57 80.07 L256.32 79.70 L258.07 79.33 L259.82 78.98 L261.57 78.64 L263.32 78.32 L265.08 78.00 L266.83 77.70 L268.51 77.42 M285.40 75.18 L285.47 75.17 L287.22 75.00 L288.98 74.83 L290.73 74.68 L292.48 74.53 L294.23 74.40 L295.98 74.28 L297.73 74.16 L299.48 74.05 L301.23 73.96 L302.98 73.87 L304.73 73.79 L305.50 73.76 M321.20 73.43 L321.28 73.43 L323.03 73.43 L324.78 73.43 L326.53 73.45 L328.28 73.46 L330.03 73.48 L331.79 73.51 L333.54 73.55 L335.29 73.58 L337.04 73.62 L338.79 73.67 L340.54 73.72 L341.57 73.75 M358.60 74.38 L358.66 74.38 L360.41 74.45 L362.16 74.52 L363.92 74.59 L365.67 74.66 L367.42 74.73 L369.17 74.80 L370.92 74.86 L372.67 74.93 L374.42 74.98 L376.17 75.04 L377.92 75.09 L378.19 75.10" fill="none" stroke="#0000ff" stroke-width="2.0"/>
<path fill="none" stroke="#3a3a3a" stroke-width="0.8" opacity="0.45" d="M67.60 153.50 V157.50 M107.30 124.51 V126.50 M146.95 100.88 V105.28 M186.70 85.81 V90.21 M226.30 78.19 V82.59 M305.60 81.75 V86.15 M345.30 89.21 V93.61"/>
</svg>
<div class="yl" style="top:214.69px"><span class="z">0</span></div>
<div class="yl" style="top:185.69px">2</div>
<div class="yl" style="top:156.69px">4</div>
<div class="yl" style="top:127.69px">6</div>
<div class="yl" style="top:98.69px">8</div>
<div class="yl" style="top:69.69px">1<span class="z">0</span></div>
<div class="yl" style="top:41.69px">12</div>
<div class="yl" style="top:12.69px">14</div>
<div class="xl" style="left:27.45px"><span class="z">0</span>.3</div>
<div class="xl" style="left:107.80px"><span class="z">0</span>.4</div>
<div class="xl" style="left:186.45px"><span class="z">0</span>.5</div>
<div class="xl" style="left:266.50px"><span class="z">0</span>.6</div>
<div class="xl" style="left:345.70px"><span class="z">0</span>.7</div>
</body></html>
